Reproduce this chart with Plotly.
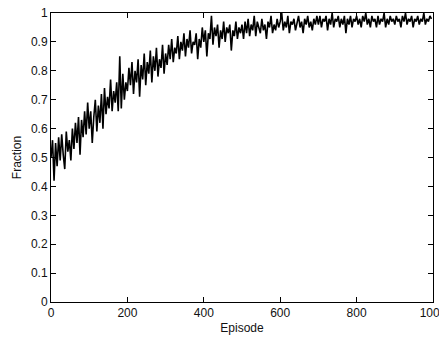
import plotly.graph_objects as go

episodes = list(range(0, 1000, 4))

fraction = [
    # 0-96
    0.50, 0.56, 0.42, 0.55, 0.47, 0.57, 0.49, 0.58, 0.51, 0.46, 0.59, 0.52, 0.56, 0.49, 0.60, 0.53, 0.62, 0.55, 0.64, 0.51, 0.63, 0.57, 0.66, 0.58, 0.69,
    # 100-196
    0.60, 0.66, 0.55, 0.64, 0.70, 0.59, 0.68, 0.62, 0.72, 0.60, 0.74, 0.65, 0.71, 0.67, 0.77, 0.66, 0.73, 0.69, 0.76, 0.66, 0.85, 0.67, 0.79, 0.70, 0.76,
    # 200-296
    0.73, 0.81, 0.75, 0.83, 0.72, 0.80, 0.76, 0.84, 0.71, 0.82, 0.77, 0.86, 0.75, 0.83, 0.79, 0.87, 0.76, 0.85, 0.80, 0.88, 0.78, 0.84, 0.81, 0.89, 0.79,
    # 300-396
    0.86, 0.82, 0.89, 0.84, 0.91, 0.83, 0.88, 0.86, 0.92, 0.84, 0.90, 0.87, 0.93, 0.85, 0.91, 0.88, 0.94, 0.86, 0.90, 0.89, 0.93, 0.84, 0.91, 0.88, 0.95,
    # 400-496
    0.90, 0.94, 0.85, 0.93, 0.91, 0.99, 0.89, 0.95, 0.92, 0.96, 0.88, 0.94, 0.91, 0.97, 0.90, 0.95, 0.93, 0.96, 0.87, 0.94, 0.92, 0.97, 0.91, 0.95, 0.93,
    # 500-596
    0.96, 0.91, 0.97, 0.93, 0.98, 0.92, 0.96, 0.94, 0.99, 0.92, 0.97, 0.95, 0.93, 0.98, 0.94, 0.96, 0.91, 0.97, 0.95, 0.99, 0.93, 0.96, 0.94, 0.98, 0.95,
    # 600-696
    0.97, 1.00, 0.94, 0.97, 0.95, 0.99, 0.93, 0.97, 0.96, 0.98, 0.94, 0.97, 0.99, 0.95, 0.97, 0.93, 0.98, 0.96, 0.99, 0.95, 0.97, 0.94, 0.98, 0.96, 0.99,
    # 700-796
    0.96, 0.99, 0.95, 0.98, 0.97, 0.99, 0.94, 0.98, 0.96, 1.00, 0.95, 0.98, 0.97, 0.99, 0.95, 0.98, 0.96, 0.99, 0.93, 0.98, 0.96, 0.99, 0.95, 0.98, 0.97,
    # 800-896
    0.99, 0.96, 0.98, 0.95, 0.99, 0.97, 1.00, 0.96, 0.98, 0.95, 0.99, 0.97, 0.98, 0.95, 0.99, 0.96, 0.98, 0.97, 1.00, 0.95, 0.98, 0.96, 0.99, 0.97, 0.98,
    # 900-996
    0.96, 0.99, 0.97, 0.98, 0.95, 0.99, 0.97, 1.00, 0.96, 0.98, 0.97, 0.99, 0.95, 0.98, 0.97, 0.99, 0.96, 0.98, 0.97, 1.00, 0.96, 0.98, 0.97, 0.99, 0.98,
]

x_ticks = [0, 200, 400, 600, 800, 1000]
y_ticks = [0, 0.1, 0.2, 0.3, 0.4, 0.5, 0.6, 0.7, 0.8, 0.9, 1]

FONT = "Liberation Sans, Arial, sans-serif"

fig = go.Figure()
fig.add_trace(go.Scatter(x=episodes, y=fraction, mode="lines",
                         line=dict(color="black", width=1.6), showlegend=False,
                         hoverinfo="skip"))

axis_common = dict(showline=True, linecolor="black", linewidth=1, mirror="ticks",
                   ticks="inside", ticklen=5, tickcolor="black", tickwidth=1,
                   showgrid=False, zeroline=False, automargin=False,
                   ticklabeloverflow="allow",
                   tickfont=dict(family=FONT, size=12, color="#111"))

fig.update_xaxes(range=[0, 1000], tickvals=x_ticks, ticktext=[str(v) for v in x_ticks],
                 title=dict(text="Episode", standoff=4, font=dict(family=FONT, size=12, color="#111")),
                 **axis_common)
fig.update_yaxes(range=[0, 1], tickvals=y_ticks, ticktext=[f"{v:g}" for v in y_ticks],
                 title=dict(text="Fraction", standoff=6, font=dict(family=FONT, size=12, color="#111")),
                 **axis_common)

fig.update_layout(width=439, height=340, margin=dict(l=51, r=6, t=13, b=38, autoexpand=False),
                  plot_bgcolor="white", paper_bgcolor="white")

fig.write_html("out.html", config={"displayModeBar": False},
               post_script="document.body.style.margin='0';document.body.style.overflow='hidden';")
